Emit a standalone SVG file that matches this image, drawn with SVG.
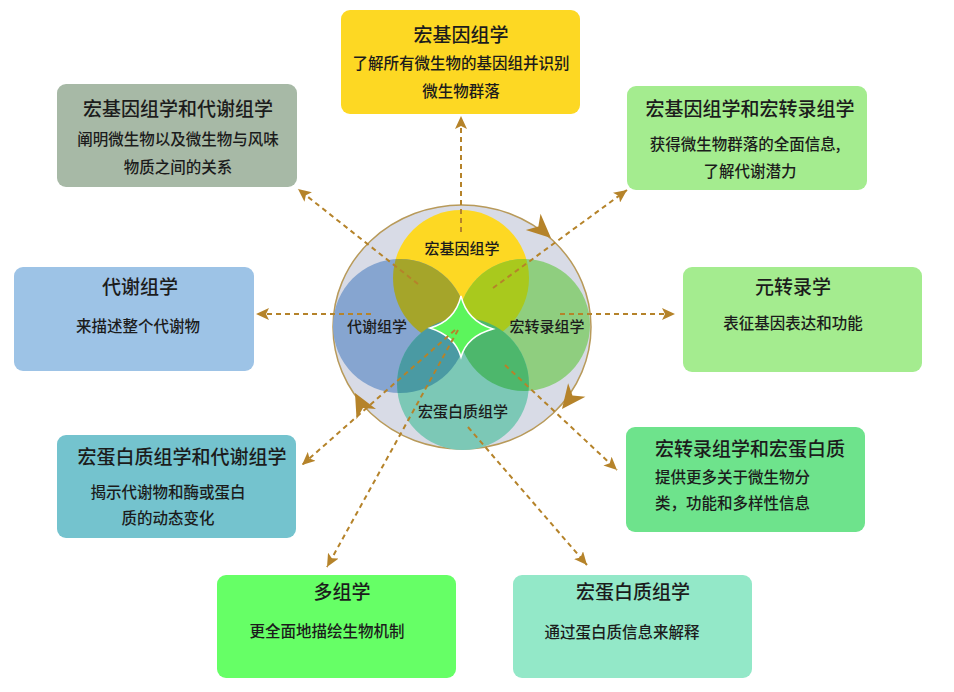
<svg xmlns="http://www.w3.org/2000/svg" width="954" height="692" viewBox="0 0 954 692">
<style>
text{font-family:"Noto Sans CJK SC","Noto Sans CJK JP",sans-serif;fill:#1c1c1c;text-anchor:middle;dominant-baseline:central;font-weight:500}
.t{font-size:19px}
.b{font-size:15.5px}
.c{font-size:15px}
.conn line{stroke:#b5832a;stroke-width:2;stroke-dasharray:5 4;fill:none;marker-end:url(#ah)}
.box{stroke:none}
</style>
<defs>
<marker id="ah" markerUnits="userSpaceOnUse" markerWidth="15" markerHeight="12" refX="13" refY="6" orient="auto">
<path d="M0,0 L13,6 L0,12 L3,6 Z" fill="#b5832a"/>
</marker>
<clipPath id="cy"><circle cx="461" cy="278" r="68"/></clipPath>
<clipPath id="ct"><circle cx="463" cy="384" r="66"/></clipPath>
<path id="bigArrow" d="M0,0 L-24,-11 L-17,0 L-24,11 Z" fill="#b5832a"/>
</defs>
<rect width="954" height="692" fill="#ffffff"/>

<g id="core">
<ellipse cx="462" cy="327" rx="129" ry="122" fill="#d8dbe6" stroke="#b89a5a" stroke-width="1.5"/>
<circle cx="461" cy="278" r="68" fill="#fdd823"/>
<circle cx="400" cy="326" r="67" fill="#86a5d0"/>
<circle cx="524" cy="325" r="66" fill="#8fce7f"/>
<circle cx="463" cy="384" r="66" fill="#7cc8b6"/>
<circle cx="400" cy="326" r="67" fill="#a5a52a" clip-path="url(#cy)"/>
<circle cx="524" cy="325" r="66" fill="#a9c91d" clip-path="url(#cy)"/>
<circle cx="400" cy="326" r="67" fill="#4a9aa3" clip-path="url(#ct)"/>
<circle cx="524" cy="325" r="66" fill="#4db76c" clip-path="url(#ct)"/>
<path d="M461,296 Q467,321 493,329 Q467,336 461,357 Q455,336 430,328 Q455,321 461,296 Z" fill="#5cf55c" stroke="#ffffff" stroke-width="1.5"/>
<use href="#bigArrow" transform="translate(551,238) rotate(42)"/>
<use href="#bigArrow" transform="translate(562,409) rotate(128)"/>
<use href="#bigArrow" transform="translate(355,393) rotate(-118)"/>
</g>

<g class="conn" id="connectors">
<line x1="461" y1="232" x2="461" y2="116"/>
<line x1="418" y1="284" x2="298" y2="189"/>
<line x1="493" y1="288" x2="627" y2="190"/>
<line x1="371" y1="314" x2="256" y2="314"/>
<line x1="560" y1="314" x2="675" y2="314"/>
<line x1="505" y1="365" x2="617" y2="470"/>
<line x1="455" y1="330" x2="302" y2="465"/>
<line x1="458" y1="330" x2="327" y2="567"/>
<line x1="468" y1="427" x2="587" y2="565"/>
</g>

<g id="coreLabels">
<text class="c" x="462" y="247">宏基因组学</text>
<text class="c" x="377" y="325">代谢组学</text>
<text class="c" x="547" y="325">宏转录组学</text>
<text class="c" x="463" y="410">宏蛋白质组学</text>
</g>

<g id="n1">
<rect class="box" x="341" y="10" width="239" height="104" rx="9" fill="#fdd823"/>
<text class="t" x="461" y="33">宏基因组学</text>
<text class="b" x="461" y="62">了解所有微生物的基因组并识别</text>
<text class="b" x="461" y="90">微生物群落</text>
</g>

<g id="n2">
<rect class="box" x="57" y="84" width="240" height="103" rx="9" fill="#a7b9a6"/>
<text class="t" x="178" y="107">宏基因组学和代谢组学</text>
<text class="b" x="178" y="138">阐明微生物以及微生物与风味</text>
<text class="b" x="178" y="166">物质之间的关系</text>
</g>

<g id="n3">
<rect class="box" x="627" y="86" width="240" height="104" rx="9" fill="#a4ec8f"/>
<text class="t" x="750" y="107">宏基因组学和宏转录组学</text>
<text class="b" x="745" y="143">获得微生物群落的全面信息,</text>
<text class="b" x="750" y="170">了解代谢潜力</text>
</g>

<g id="n4">
<rect class="box" x="14" y="267" width="240" height="104" rx="9" fill="#9dc3e6"/>
<text class="t" x="140" y="285">代谢组学</text>
<text class="b" x="138" y="325">来描述整个代谢物</text>
</g>

<g id="n5">
<rect class="box" x="683" y="267" width="239" height="105" rx="9" fill="#a4ec8f"/>
<text class="t" x="793" y="285">元转录学</text>
<text class="b" x="793" y="322">表征基因表达和功能</text>
</g>

<g id="n6">
<rect class="box" x="57" y="435" width="239" height="103" rx="9" fill="#74c3ce"/>
<text class="t" x="182" y="455">宏蛋白质组学和代谢组学</text>
<text class="b" x="168" y="491">揭示代谢物和酶或蛋白</text>
<text class="b" x="168" y="517">质的动态变化</text>
</g>

<g id="n7">
<rect class="box" x="626" y="427" width="239" height="105" rx="9" fill="#6ee38c"/>
<text class="t" x="750" y="447">宏转录组学和宏蛋白质</text>
<text class="b" x="655" y="476" style="text-anchor:start">提供更多关于微生物分</text>
<text class="b" x="655" y="502" style="text-anchor:start">类，功能和多样性信息</text>
</g>

<g id="n8">
<rect class="box" x="217" y="575" width="239" height="103" rx="9" fill="#66ff66"/>
<text class="t" x="342" y="590">多组学</text>
<text class="b" x="327" y="630">更全面地描绘生物机制</text>
</g>

<g id="n9">
<rect class="box" x="513" y="575" width="239" height="103" rx="9" fill="#93e8c8"/>
<text class="t" x="633" y="590">宏蛋白质组学</text>
<text class="b" x="622" y="631">通过蛋白质信息来解释</text>
</g>
</svg>
